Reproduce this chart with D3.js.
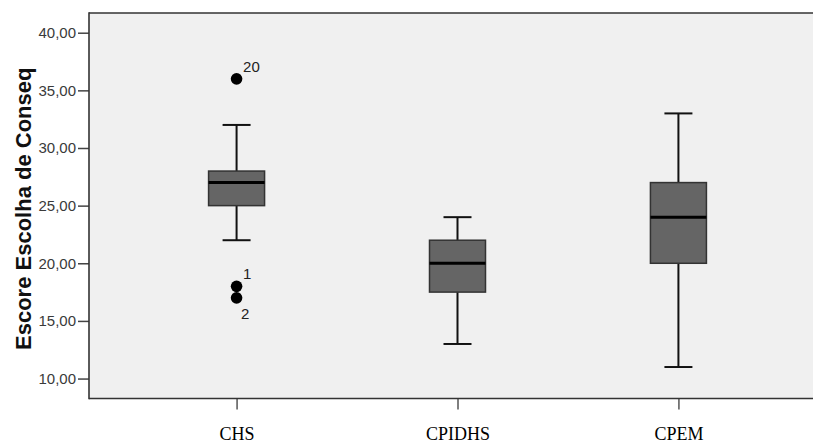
<!DOCTYPE html>
<html>
<head>
<meta charset="utf-8">
<script src="https://cdn.jsdelivr.net/npm/d3@7"></script>
<style>
  html, body { margin: 0; padding: 0; background: #ffffff; overflow: hidden; width: 813px; height: 443px; }
  svg { display: block; overflow: hidden; }
</style>
</head>
<body>
<svg id="chart" width="813" height="443" viewBox="0 0 813 443"></svg>
<script>
// ---- data ----
const categories = ["CHS", "CPIDHS", "CPEM"];
const whiskerLow  = [22, 13, 11];
const q1          = [25, 17.5, 20];
const median      = [27, 20, 24];
const q3          = [28, 22, 27];
const whiskerHigh = [32, 24, 33];
// outliers: group index, value, case label
const outlierGroup = [0, 0, 0];
const outlierValue = [36, 18, 17];
const outlierLabel = ["20", "1", "2"];
const yTicks = [10, 15, 20, 25, 30, 35, 40];
const yTitle = "Escore Escolha de Conseq";

// ---- layout ----
const svg = d3.select("#chart");
const W = 813;
const plot = { left: 89, top: 13, right: 826, bottom: 398.5 };

const x = d3.scalePoint().domain(categories).range([plot.left, plot.right]).padding(0.668);
const y = d3.scaleLinear().domain([8.27, 41.71]).range([plot.bottom, plot.top]);

const boxW = 56, capW = 28;

// background (plot area continues past the visible right edge)
svg.append("rect")
  .attr("x", plot.left).attr("y", plot.top)
  .attr("width", W - plot.left).attr("height", plot.bottom - plot.top)
  .attr("fill", "#f0f0f0");

// y axis
const yAxis = d3.axisLeft(y).tickValues(yTicks)
  .tickFormat(d => d3.format(".2f")(d).replace(".", ","))
  .tickSize(11).tickPadding(2);
const gy = svg.append("g").attr("transform", `translate(${plot.left},0)`).call(yAxis);
gy.select(".domain").remove();
gy.selectAll(".tick line").attr("stroke", "#444").attr("stroke-width", 1.5);
gy.selectAll(".tick text").attr("fill", "#3a3a3a")
  .style("font-family", "Arial, 'Liberation Sans', sans-serif").style("font-size", "15px");

// x axis
const xAxis = d3.axisBottom(x).tickSize(11).tickPadding(18);
const gx = svg.append("g").attr("transform", `translate(0,${plot.bottom})`).call(xAxis);
gx.select(".domain").remove();
gx.selectAll(".tick line").attr("stroke", "#555").attr("stroke-width", 1.5);
gx.selectAll(".tick text").attr("fill", "#000")
  .style("font-family", "'Liberation Serif', 'Times New Roman', serif").style("font-size", "18px");

// frame: left, top and bottom edges only
svg.append("line").attr("x1", plot.left).attr("x2", W).attr("y1", plot.top).attr("y2", plot.top)
  .attr("stroke", "#333").attr("stroke-width", 1.6);
svg.append("line").attr("x1", plot.left).attr("x2", W).attr("y1", plot.bottom).attr("y2", plot.bottom)
  .attr("stroke", "#333").attr("stroke-width", 1.6);
svg.append("line").attr("x1", plot.left).attr("x2", plot.left).attr("y1", plot.top - 0.8).attr("y2", plot.bottom + 0.8)
  .attr("stroke", "#333").attr("stroke-width", 1.6);

// y title
svg.append("text")
  .attr("transform", `translate(31,${(plot.top + plot.bottom) / 2 + 3}) rotate(-90)`)
  .attr("text-anchor", "middle")
  .style("font-family", "Arial, 'Liberation Sans', sans-serif")
  .style("font-size", "22px").style("font-weight", "bold")
  .attr("fill", "#111")
  .text(yTitle);

// boxes
const boxes = categories.map((c, i) => ({
  c, lo: whiskerLow[i], q1: q1[i], med: median[i], q3: q3[i], hi: whiskerHigh[i]
}));
const g = svg.append("g");
boxes.forEach(b => {
  const cx = x(b.c);
  g.append("line").attr("x1", cx).attr("x2", cx).attr("y1", y(b.hi)).attr("y2", y(b.q3))
    .attr("stroke", "#111").attr("stroke-width", 2);
  g.append("line").attr("x1", cx).attr("x2", cx).attr("y1", y(b.q1)).attr("y2", y(b.lo))
    .attr("stroke", "#111").attr("stroke-width", 2);
  [b.hi, b.lo].forEach(v => {
    g.append("line").attr("x1", cx - capW / 2).attr("x2", cx + capW / 2)
      .attr("y1", y(v)).attr("y2", y(v))
      .attr("stroke", "#111").attr("stroke-width", 2);
  });
  g.append("rect").attr("x", cx - boxW / 2).attr("y", y(b.q3))
    .attr("width", boxW).attr("height", y(b.q1) - y(b.q3))
    .attr("fill", "#656565").attr("stroke", "#333").attr("stroke-width", 1.5);
  g.append("line").attr("x1", cx - boxW / 2).attr("x2", cx + boxW / 2)
    .attr("y1", y(b.med)).attr("y2", y(b.med))
    .attr("stroke", "#000").attr("stroke-width", 3);
});

// outliers
outlierValue.forEach((v, i) => {
  const cat = categories[outlierGroup[i]];
  const cx = x(cat), cy = y(v);
  g.append("circle").attr("cx", cx).attr("cy", cy).attr("r", 5.8).attr("fill", "#000");
  const groupVals = outlierValue.filter((_, j) => outlierGroup[j] === outlierGroup[i]);
  const isLowest = v === d3.min(groupVals) && groupVals.length > 1 && v < median[outlierGroup[i]];
  g.append("text")
    .attr("x", cx + (isLowest ? 4.5 : 6.5))
    .attr("y", cy + (isLowest ? 21 : -7))
    .style("font-family", "Arial, 'Liberation Sans', sans-serif").style("font-size", "15px")
    .attr("fill", "#222")
    .text(outlierLabel[i]);
});
</script>
</body>
</html>
